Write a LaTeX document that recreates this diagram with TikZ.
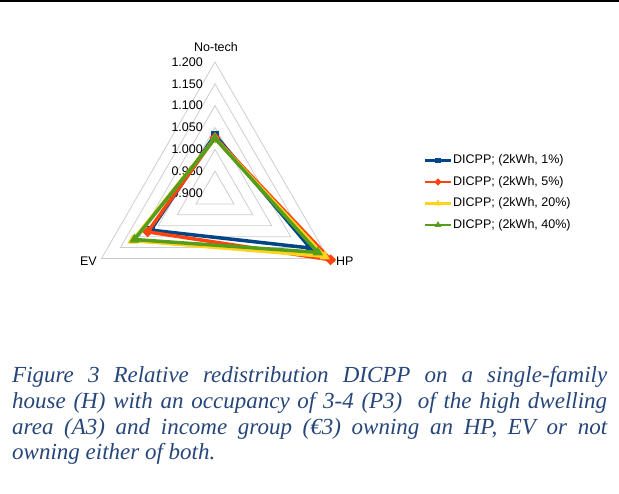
\documentclass[tikz,border=0pt]{standalone}
\usepackage{fontspec}
\setmainfont{Liberation Serif}
\setsansfont{Liberation Sans}
\usetikzlibrary{positioning,shapes.geometric}
\definecolor{dpblue}{RGB}{0,69,134}
\definecolor{dpred}{RGB}{255,66,14}
\definecolor{dpyellow}{RGB}{255,211,32}
\definecolor{dpgreen}{RGB}{87,157,28}
\definecolor{gridgray}{RGB}{205,205,205}
\definecolor{capblue}{RGB}{38,70,122}

\begin{document}
\begin{tikzpicture}[x=1pt, y=-1pt,
  lbl/.style={font=\fontsize{12.5}{14}\selectfont\sffamily, inner sep=0pt},
  sqmk/.style={rectangle, inner sep=0pt, minimum size=8pt},
  dimk/.style={diamond, inner sep=0pt, minimum size=11pt},
  trmk/.style={regular polygon, regular polygon sides=3, inner sep=0pt, minimum size=12pt},
  capline/.style={anchor=base west, inner sep=0pt, text=capblue, font=\fontsize{23}{26}\selectfont\itshape}]
\useasboundingbox (0,0) rectangle (619,494);
% Rule at the top of the page
\fill (0,0) rectangle (619,2.5);

% Radar chart
\begin{scope}[shift={(215,193)}]
\foreach \k in {1,...,6}
  \draw[gridgray, line width=0.8pt] (270:{\k*21.833}) -- (150:{\k*21.833}) -- (30:{\k*21.833}) -- cycle;
\foreach \v [count=\k from 0] in {0.900,0.950,1.000,1.050,1.100,1.150,1.200}
  \node[lbl, anchor=east] (tick\k) at (-12,{-\k*21.833}) {\v};
\node[lbl] (notech) at (1,-146) {No-tech};
\node[lbl, anchor=east] (ev) at (-118,68) {EV};
\node[lbl, anchor=west] (hp) at (121,68) {HP};
% Series
\foreach \col/\mk/\a/\b/\c [count=\i] in {dpblue/sqmk/1.033/1.070/1.152, dpred/dimk/1.027/1.078/1.206, dpyellow/trmk/1.025/1.118/1.190, dpgreen/trmk/1.025/1.113/1.172} {
  \draw[\col, line width=3.5pt] (270:{(\a-0.9)*436.67}) coordinate (s\i-nt) -- (150:{(\b-0.9)*436.67}) coordinate (s\i-ev) -- (30:{(\c-0.9)*436.67}) coordinate (s\i-hp) -- cycle;
  \foreach \p in {nt,ev,hp}
    \node[\mk, fill=\col] (m\i-\p) at (s\i-\p) {};
}
\end{scope}

% Legend
\foreach \col/\mk/\t [count=\i] in {dpblue/sqmk/1\%, dpred/dimk/5\%, dpyellow/trmk/20\%, dpgreen/trmk/40\%} {
  \pgfmathsetmacro{\ly}{160.5+(\i-1)*21.5}
  \draw[\col, line width=2.5pt] (425,\ly) coordinate (la\i) -- (451,\ly) coordinate (lb\i);
  \node[\mk, fill=\col, scale=0.65] (lm\i) at (438,\ly) {};
  \node[lbl, anchor=west] (lt\i) at (453,\ly) {DICPP; (2kWh, \t)};
}

% Caption
\node[capline] (cap1) at (12,383) {\makebox[595pt][s]{Figure 3 Relative redistribution DICPP on a single-family}};
\node[capline] (cap2) at (12,408.5) {\makebox[595pt][s]{house (H) with an occupancy of 3-4 (P3)\ \ of the high dwelling}};
\node[capline] (cap3) at (12,434.5) {\makebox[595pt][s]{area (A3) and income group (€3) owning an HP, EV or not}};
\node[capline] (cap4) at (12,460) {owning either of both.};
\end{tikzpicture}
\end{document}
